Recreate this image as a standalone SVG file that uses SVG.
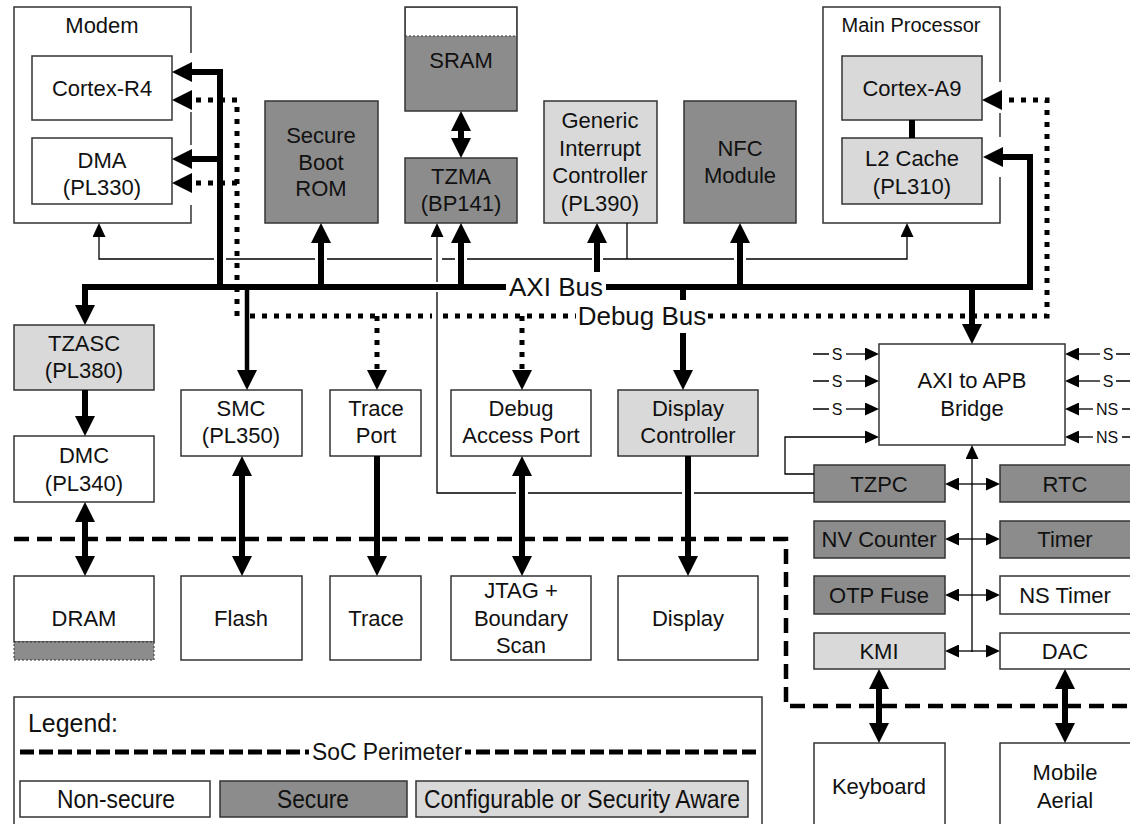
<svg xmlns="http://www.w3.org/2000/svg" width="1130" height="824" viewBox="0 0 1130 824">
<style>
.box{stroke:#333;stroke-width:1.5}
.ns{fill:#fff}
.sec{fill:#8c8c8c}
.cfg{fill:#d9d9d9}
.cont{fill:none;stroke:#333;stroke-width:1.5}
text{font-family:"Liberation Sans",Arial,sans-serif;font-size:22px;fill:#111;text-anchor:middle;dominant-baseline:central}
.lg{font-size:25px}
.bus{font-size:26px}
.sm{font-size:16px}
.th{fill:none;stroke:#000;stroke-width:6}
.md{fill:none;stroke:#000;stroke-width:4.5}
.dt{fill:none;stroke:#000;stroke-width:5;stroke-dasharray:5 7}
.tn{fill:none;stroke:#000;stroke-width:1.3}
.pe{fill:none;stroke:#000;stroke-width:4.5;stroke-dasharray:15 8}
</style>
<defs>
<marker id="ah" markerUnits="userSpaceOnUse" markerWidth="20" markerHeight="20" refX="4" refY="10" orient="auto-start-reverse" viewBox="0 0 20 20"><path d="M0,0 L20,10 L0,20 z" fill="#000"/></marker>
<marker id="at" markerUnits="userSpaceOnUse" markerWidth="14" markerHeight="13" refX="2" refY="6.5" orient="auto-start-reverse" viewBox="0 0 14 13"><path d="M0,0 L14,6.5 L0,13 z" fill="#000"/></marker>
</defs>
<rect x="0" y="0" width="1130" height="824" fill="#fff"/>

<!-- containers -->
<g id="modem">
<path class="cont" d="M191,53 V7 H14 V223 H191 V205 M191,112 V145"/>
<text x="102" y="25">Modem</text>
</g>
<g id="main-processor">
<path class="cont" d="M1000,82 V7 H823 V223 H1000 V177 M1000,113 V137"/>
<text x="911" y="25" style="font-size:20px">Main Processor</text>
</g>

<!-- nodes -->
<g id="cortex-r4"><rect class="box ns" x="32" y="56" width="140" height="64"/><text x="102" y="88">Cortex-R4</text></g>
<g id="dma"><rect class="box ns" x="32" y="138" width="140" height="66"/><text x="102" y="160">DMA</text><text x="102" y="187">(PL330)</text></g>
<g id="secure-boot-rom"><rect class="box sec" x="265" y="101" width="113" height="122"/><text x="321" y="135">Secure</text><text x="321" y="162">Boot</text><text x="321" y="188">ROM</text></g>
<g id="sram"><rect class="box sec" x="405" y="7" width="112" height="104"/><rect x="406" y="8" width="110" height="28" fill="#fff"/><line x1="405" y1="36" x2="517" y2="36" stroke="#333" stroke-width="1" stroke-dasharray="2 2"/><text x="461" y="60">SRAM</text></g>
<g id="tzma"><rect class="box sec" x="405" y="158" width="112" height="65"/><text x="461" y="176">TZMA</text><text x="461" y="203">(BP141)</text></g>
<g id="gic"><rect class="box cfg" x="544" y="101" width="113" height="122"/><text x="600" y="120">Generic</text><text x="600" y="148">Interrupt</text><text x="600" y="175">Controller</text><text x="600" y="203">(PL390)</text></g>
<g id="nfc"><rect class="box sec" x="684" y="101" width="112" height="122"/><text x="740" y="148">NFC</text><text x="740" y="175">Module</text></g>
<g id="cortex-a9"><rect class="box cfg" x="842" y="56" width="140" height="64"/><text x="912" y="88">Cortex-A9</text></g>
<g id="l2-cache"><rect class="box cfg" x="842" y="138" width="140" height="66"/><text x="912" y="158">L2 Cache</text><text x="912" y="186">(PL310)</text></g>

<g id="tzasc"><rect class="box cfg" x="14" y="325" width="140" height="65"/><text x="84" y="343">TZASC</text><text x="84" y="370">(PL380)</text></g>
<g id="dmc"><rect class="box ns" x="14" y="436" width="140" height="66"/><text x="84" y="455">DMC</text><text x="84" y="483">(PL340)</text></g>
<g id="dram"><rect class="box ns" x="14" y="576" width="140" height="66"/><rect x="14" y="642" width="140" height="18" fill="#8c8c8c" stroke="#333" stroke-width="1" stroke-dasharray="2 2"/><text x="84" y="618">DRAM</text></g>
<g id="smc"><rect class="box ns" x="181" y="390" width="121" height="66"/><text x="241" y="408">SMC</text><text x="241" y="435">(PL350)</text></g>
<g id="flash"><rect class="box ns" x="181" y="576" width="121" height="84"/><text x="241" y="618">Flash</text></g>
<g id="trace-port"><rect class="box ns" x="330" y="390" width="91" height="66"/><text x="376" y="408">Trace</text><text x="376" y="435">Port</text></g>
<g id="trace"><rect class="box ns" x="330" y="576" width="91" height="84"/><text x="376" y="618">Trace</text></g>
<g id="dap"><rect class="box ns" x="451" y="390" width="140" height="66"/><text x="521" y="408">Debug</text><text x="521" y="435">Access Port</text></g>
<g id="jtag"><rect class="box ns" x="451" y="576" width="140" height="84"/><text x="521" y="590">JTAG +</text><text x="521" y="618">Boundary</text><text x="521" y="645">Scan</text></g>
<g id="display-controller"><rect class="box cfg" x="618" y="390" width="140" height="66"/><text x="688" y="408">Display</text><text x="688" y="435">Controller</text></g>
<g id="display"><rect class="box ns" x="618" y="576" width="140" height="84"/><text x="688" y="618">Display</text></g>

<g id="axi-apb-bridge"><rect class="box ns" x="879" y="344" width="186" height="101"/><text x="972" y="380">AXI to APB</text><text x="972" y="408">Bridge</text></g>
<g id="tzpc"><rect class="box sec" x="814" y="465" width="131" height="37"/><text x="879" y="484">TZPC</text></g>
<g id="rtc"><rect class="box sec" x="1000" y="465" width="132" height="37"/><text x="1065" y="484">RTC</text></g>
<g id="nv-counter"><rect class="box sec" x="814" y="521" width="131" height="37"/><text x="879" y="539">NV Counter</text></g>
<g id="timer"><rect class="box sec" x="1000" y="521" width="132" height="37"/><text x="1065" y="539">Timer</text></g>
<g id="otp-fuse"><rect class="box sec" x="814" y="576" width="131" height="38"/><text x="879" y="595">OTP Fuse</text></g>
<g id="ns-timer"><rect class="box ns" x="1000" y="576" width="132" height="38"/><text x="1065" y="595">NS Timer</text></g>
<g id="kmi"><rect class="box cfg" x="814" y="633" width="131" height="36"/><text x="879" y="651">KMI</text></g>
<g id="dac"><rect class="box ns" x="1000" y="633" width="132" height="36"/><text x="1065" y="651">DAC</text></g>
<g id="keyboard"><rect class="box ns" x="814" y="743" width="131" height="90"/><text x="879" y="786">Keyboard</text></g>
<g id="mobile-aerial"><rect class="box ns" x="1000" y="743" width="132" height="90"/><text x="1065" y="772">Mobile</text><text x="1065" y="800">Aerial</text></g>

<!-- connectors -->
<g id="connectors">
<path class="tn" d="M214,259 H99 V235" marker-end="url(#at)"/>
<path class="tn" d="M226,259 H315 M327,259 H432 M442,259 H455 M467,259 H592 M603,259 H734"/>
<path class="tn" d="M746,259 H907 V235" marker-end="url(#at)"/>
<path class="tn" d="M627,223 V259"/>
<path class="tn" d="M437,282 V235" marker-end="url(#at)"/>
<path class="tn" d="M437,292 V493 H516 M528,493 H682 M694,493 H814"/>
<path class="tn" d="M814,474 H785 V437 H867" marker-end="url(#at)"/>
<path class="tn" d="M813,354 H829 M813,381 H829 M813,409 H829"/>
<path class="tn" d="M846,354 H867" marker-end="url(#at)"/>
<path class="tn" d="M846,381 H867" marker-end="url(#at)"/>
<path class="tn" d="M846,409 H867" marker-end="url(#at)"/>
<text class="sm" x="837" y="354">S</text><text class="sm" x="837" y="381">S</text><text class="sm" x="837" y="409">S</text>
<path class="tn" d="M1100,354 H1077" marker-end="url(#at)"/>
<path class="tn" d="M1100,381 H1077" marker-end="url(#at)"/>
<path class="tn" d="M1093,409 H1077" marker-end="url(#at)"/>
<path class="tn" d="M1093,437 H1077" marker-end="url(#at)"/>
<path class="tn" d="M1116,354 H1132 M1116,381 H1132 M1122,409 H1132 M1122,437 H1132"/>
<text class="sm" x="1108" y="354">S</text><text class="sm" x="1108" y="381">S</text><text class="sm" x="1107" y="409">NS</text><text class="sm" x="1107" y="437">NS</text>
<path class="tn" d="M972,652 V457" marker-end="url(#at)"/>
<path class="tn" d="M957,484 H988" marker-start="url(#at)" marker-end="url(#at)"/>
<path class="tn" d="M957,539 H988" marker-start="url(#at)" marker-end="url(#at)"/>
<path class="tn" d="M957,595 H988" marker-start="url(#at)" marker-end="url(#at)"/>
<path class="tn" d="M957,651 H988" marker-start="url(#at)" marker-end="url(#at)"/>

<path class="dt" d="M237,316 V100 H188" marker-end="url(#ah)"/>
<path class="dt" d="M237,183 H188" marker-end="url(#ah)"/>
<path class="dt" d="M250,316 H432 M443,316 H576"/>
<path class="dt" d="M708,316 H1047 V100 H998" marker-end="url(#ah)"/>
<path class="dt" d="M377,316 V374" marker-end="url(#ah)"/>
<path class="dt" d="M522,316 V374" marker-end="url(#ah)"/>

<path class="th" d="M82,287 H1030 V157 H999" marker-end="url(#ah)"/>
<path class="th" d="M220,290 V72 H188" marker-end="url(#ah)"/>
<path class="th" d="M220,159 H188" marker-end="url(#ah)"/>
<path class="th" d="M85,287 V309" marker-end="url(#ah)"/>
<path class="th" d="M85,390 V420" marker-end="url(#ah)"/>
<path class="th" d="M85,518 V560" marker-start="url(#ah)" marker-end="url(#ah)"/>
<path class="th" d="M321,287 V239" marker-end="url(#ah)"/>
<path class="th" d="M461,287 V239" marker-end="url(#ah)"/>
<path class="th" d="M461,127 V142" marker-start="url(#ah)" marker-end="url(#ah)"/>
<path class="th" d="M597,272 V239" marker-end="url(#ah)"/>
<path class="th" d="M740,287 V239" marker-end="url(#ah)"/>
<path class="th" d="M972,287 V328" marker-end="url(#ah)"/>
<path class="md" d="M247,287 V374" marker-end="url(#ah)"/>
<path class="th" d="M242,472 V560" marker-start="url(#ah)" marker-end="url(#ah)"/>
<path class="th" d="M377,456 V560" marker-end="url(#ah)"/>
<path class="th" d="M522,472 V560" marker-start="url(#ah)" marker-end="url(#ah)"/>
<path class="th" d="M683,287 V374" marker-end="url(#ah)"/>
<path class="th" d="M688,456 V560" marker-end="url(#ah)"/>
<path class="th" d="M912,120 V138"/>
<path class="th" d="M879,685 V727" marker-start="url(#ah)" marker-end="url(#ah)"/>
<path class="th" d="M1065,685 V727" marker-start="url(#ah)" marker-end="url(#ah)"/>

<rect x="506" y="273" width="100" height="28" fill="#fff"/>
<text class="bus" x="556" y="287">AXI Bus</text>
<rect x="576" y="300" width="132" height="33" fill="#fff"/>
<text class="bus" x="642" y="316">Debug Bus</text>

<path class="pe" d="M14,539 H786 V706 H1130"/>
</g>

<!-- legend -->
<g id="legend">
<rect x="14" y="697" width="748" height="140" fill="#fff" stroke="#333" stroke-width="1.5"/>
<text class="lg" x="28" y="723" style="text-anchor:start" textLength="90" lengthAdjust="spacingAndGlyphs">Legend:</text>
<line x1="20" y1="752" x2="756" y2="752" stroke="#000" stroke-width="5" stroke-dasharray="14 5"/>
<rect x="309" y="738" width="156" height="28" fill="#fff"/>
<text class="lg" x="387" y="752" style="font-size:23px" textLength="150" lengthAdjust="spacingAndGlyphs">SoC Perimeter</text>
<rect class="box ns" x="20" y="781" width="190" height="36"/><text class="lg" x="116" y="799" textLength="118" lengthAdjust="spacingAndGlyphs">Non-secure</text>
<rect class="box sec" x="220" y="781" width="187" height="36"/><text class="lg" x="313" y="799" textLength="72" lengthAdjust="spacingAndGlyphs">Secure</text>
<rect class="box cfg" x="416" y="781" width="332" height="36"/><text class="lg" x="582" y="799" textLength="316" lengthAdjust="spacingAndGlyphs">Configurable or Security Aware</text>
</g>
</svg>
